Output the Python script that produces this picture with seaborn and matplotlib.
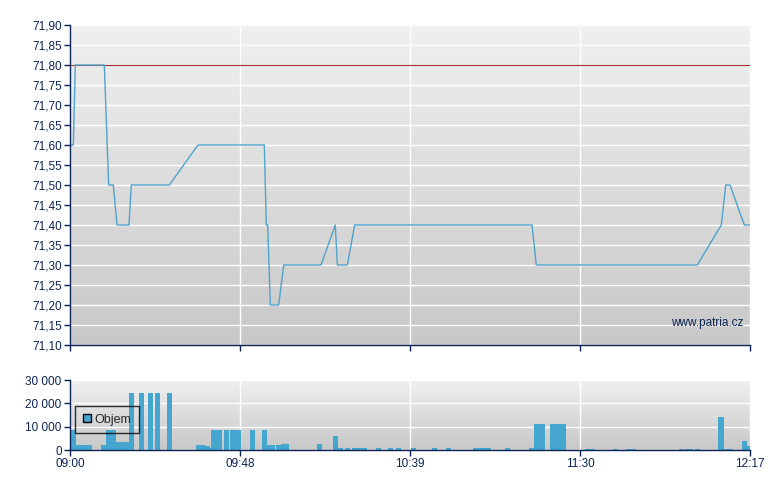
import numpy as np
import pandas as pd
import matplotlib
matplotlib.use("Agg")
import matplotlib.pyplot as plt
from matplotlib.colors import LinearSegmentedColormap
from matplotlib.patches import Patch
import seaborn as sns

# ---------------- data ----------------
# price line: minutes since 09:00 (axis scale), price
price_t = [0.00, 0.96, 1.54, 9.94, 11.21, 12.54, 13.62, 17.09, 17.76, 28.77,
           37.08, 56.29, 56.87, 57.28, 58.03, 60.46, 61.91, 72.72, 76.86, 77.44,
           80.34, 82.48, 133.85, 135.09, 181.74, 188.69, 189.97, 191.21, 195.35, 197.00]
price_v = [71.60, 71.60, 71.80, 71.80, 71.50, 71.50, 71.40, 71.40, 71.50, 71.50,
           71.60, 71.60, 71.40, 71.40, 71.20, 71.20, 71.30, 71.30, 71.40, 71.30,
           71.30, 71.40, 71.40, 71.30, 71.30, 71.40, 71.50, 71.50, 71.40, 71.40]
prev_close = 71.80

# volume bars: minutes since 09:00, volume
vol_t = [0.87, 2.52, 4.06, 5.59, 9.85, 11.15, 12.60, 13.99, 15.01, 16.37,
         17.82, 20.71, 23.32, 25.35, 28.83, 37.23, 38.39, 39.69, 40.41, 41.63,
         43.25, 45.34, 47.22, 48.81, 52.87, 56.35, 57.80, 58.67, 60.41, 61.85,
         62.72, 72.28, 76.92, 78.22, 80.39, 82.42, 83.87, 85.32, 89.38, 92.85,
         95.17, 99.51, 105.60, 109.66, 117.48, 118.78, 120.09, 121.24, 126.75, 133.70,
         135.29, 136.74, 139.84, 141.38, 142.91, 149.93, 151.37, 158.04, 161.80, 163.25,
         177.16, 178.90, 179.77, 181.79, 188.60, 190.19, 191.35, 195.41, 196.57]
vol_v = [8600, 2100, 2100, 2100, 2100, 8600, 8600, 3400, 3400, 3400,
         24500, 24500, 24500, 24500, 24500, 2100, 2100, 1700, 900, 8600,
         8600, 8600, 8600, 8600, 8600, 8600, 2100, 2100, 2100, 2600,
         2600, 2600, 6000, 900, 900, 900, 900, 900, 900, 900,
         900, 900, 900, 900, 900, 900, 900, 900, 900, 900,
         11100, 11100, 11100, 11100, 11100, 400, 400, 400, 400, 400,
         400, 400, 400, 400, 14100, 400, 400, 3900, 1700]

x_tick_labels = ["09:00", "09:48", "10:39", "11:30", "12:17"]
price_ticks = [71.10, 71.15, 71.20, 71.25, 71.30, 71.35, 71.40, 71.45, 71.50,
               71.55, 71.60, 71.65, 71.70, 71.75, 71.80, 71.85, 71.90]
vol_ticks = [0, 10000, 20000, 30000]
vol_label = "Objem"
watermark = "www.patria.cz"

# ---------------- style ----------------
sns.set_theme(style="white")
plt.rcParams["font.family"] = ["Liberation Sans", "DejaVu Sans"]

NAVY = "#0b2352"
LINE = "#4ea4cc"
BAR = "#45a6cf"
RED = "#a8302c"
T_END = 197.0
x_ticks = np.linspace(0, T_END, len(x_tick_labels))

fig = plt.figure(figsize=(7.8, 4.9), dpi=100)
fig.patch.set_facecolor("white")
ax1 = fig.add_axes([70/780, 145/490, 680/780, 320/490])
ax2 = fig.add_axes([70/780, 40/490, 680/780, 70/490])

grad = LinearSegmentedColormap.from_list("g", ["#f0f0f0", "#c8c8c8"])


def style_axes(ax):
    ax.imshow(np.linspace(0, 1, 256).reshape(-1, 1), cmap=grad, aspect="auto",
              extent=(0, 1, 0, 1), transform=ax.transAxes, zorder=0)
    ax.set_axisbelow(True)
    ax.grid(True, color="white", linewidth=1.0)
    for s in ["top", "right"]:
        ax.spines[s].set_visible(False)
    for s in ["left", "bottom"]:
        ax.spines[s].set_color(NAVY)
        ax.spines[s].set_linewidth(1.0)
        ax.spines[s].set_zorder(5)
    ax.tick_params(axis="both", direction="out", length=4, width=1, color=NAVY,
                   labelcolor=NAVY, labelsize=8.5, pad=2, left=True, bottom=True)
    ax.set_xlabel("")
    ax.set_ylabel("")


# ---- price chart ----
dfp = pd.DataFrame({"t": price_t, "p": price_v})
sns.lineplot(data=dfp, x="t", y="p", estimator=None, sort=False, color=LINE,
             linewidth=1.0, ax=ax1, zorder=3)
ax1.axhline(prev_close, color=RED, linewidth=0.8, zorder=2)
style_axes(ax1)
ax1.set_xlim(0, T_END)
ax1.set_ylim(71.10, 71.90)
ax1.set_yticks(price_ticks)
ax1.set_yticklabels([f"{v:.2f}".replace(".", ",") for v in price_ticks])
ax1.set_xticks(x_ticks)
ax1.set_xticklabels([])
ax1.text(0.99, 0.069, watermark, transform=ax1.transAxes, ha="right", va="center",
         fontsize=8.5, color=NAVY, zorder=4)

# ---- volume chart ----
dfv = pd.DataFrame({"t": vol_t, "v": vol_v})
native = np.diff(np.unique(vol_t)).min()
sns.barplot(data=dfv, x="t", y="v", native_scale=True, errorbar=None,
            color=BAR, saturation=1, width=1.65 / native, linewidth=0, ax=ax2,
            zorder=2)
style_axes(ax2)
ax2.set_xlim(0, T_END)
ax2.set_ylim(0, 30000)
ax2.set_yticks(vol_ticks)
ax2.set_yticklabels([f"{v:,}".replace(",", " ") for v in vol_ticks])
ax2.set_xticks(x_ticks)
ax2.set_xticklabels(x_tick_labels)

leg = ax2.legend(handles=[Patch(facecolor=BAR, edgecolor="black", linewidth=1.0,
                                label=vol_label)],
                 loc="lower left", bbox_to_anchor=(0.008, 0.24), frameon=True,
                 fancybox=False, fontsize=9, handlelength=0.65, handleheight=0.65,
                 handletextpad=0.3, borderpad=0.6, borderaxespad=0)
leg.get_frame().set_edgecolor("black")
leg.get_frame().set_facecolor("none")
leg.get_frame().set_linewidth(1.0)

fig.savefig("out.png", dpi=100, facecolor="white")
